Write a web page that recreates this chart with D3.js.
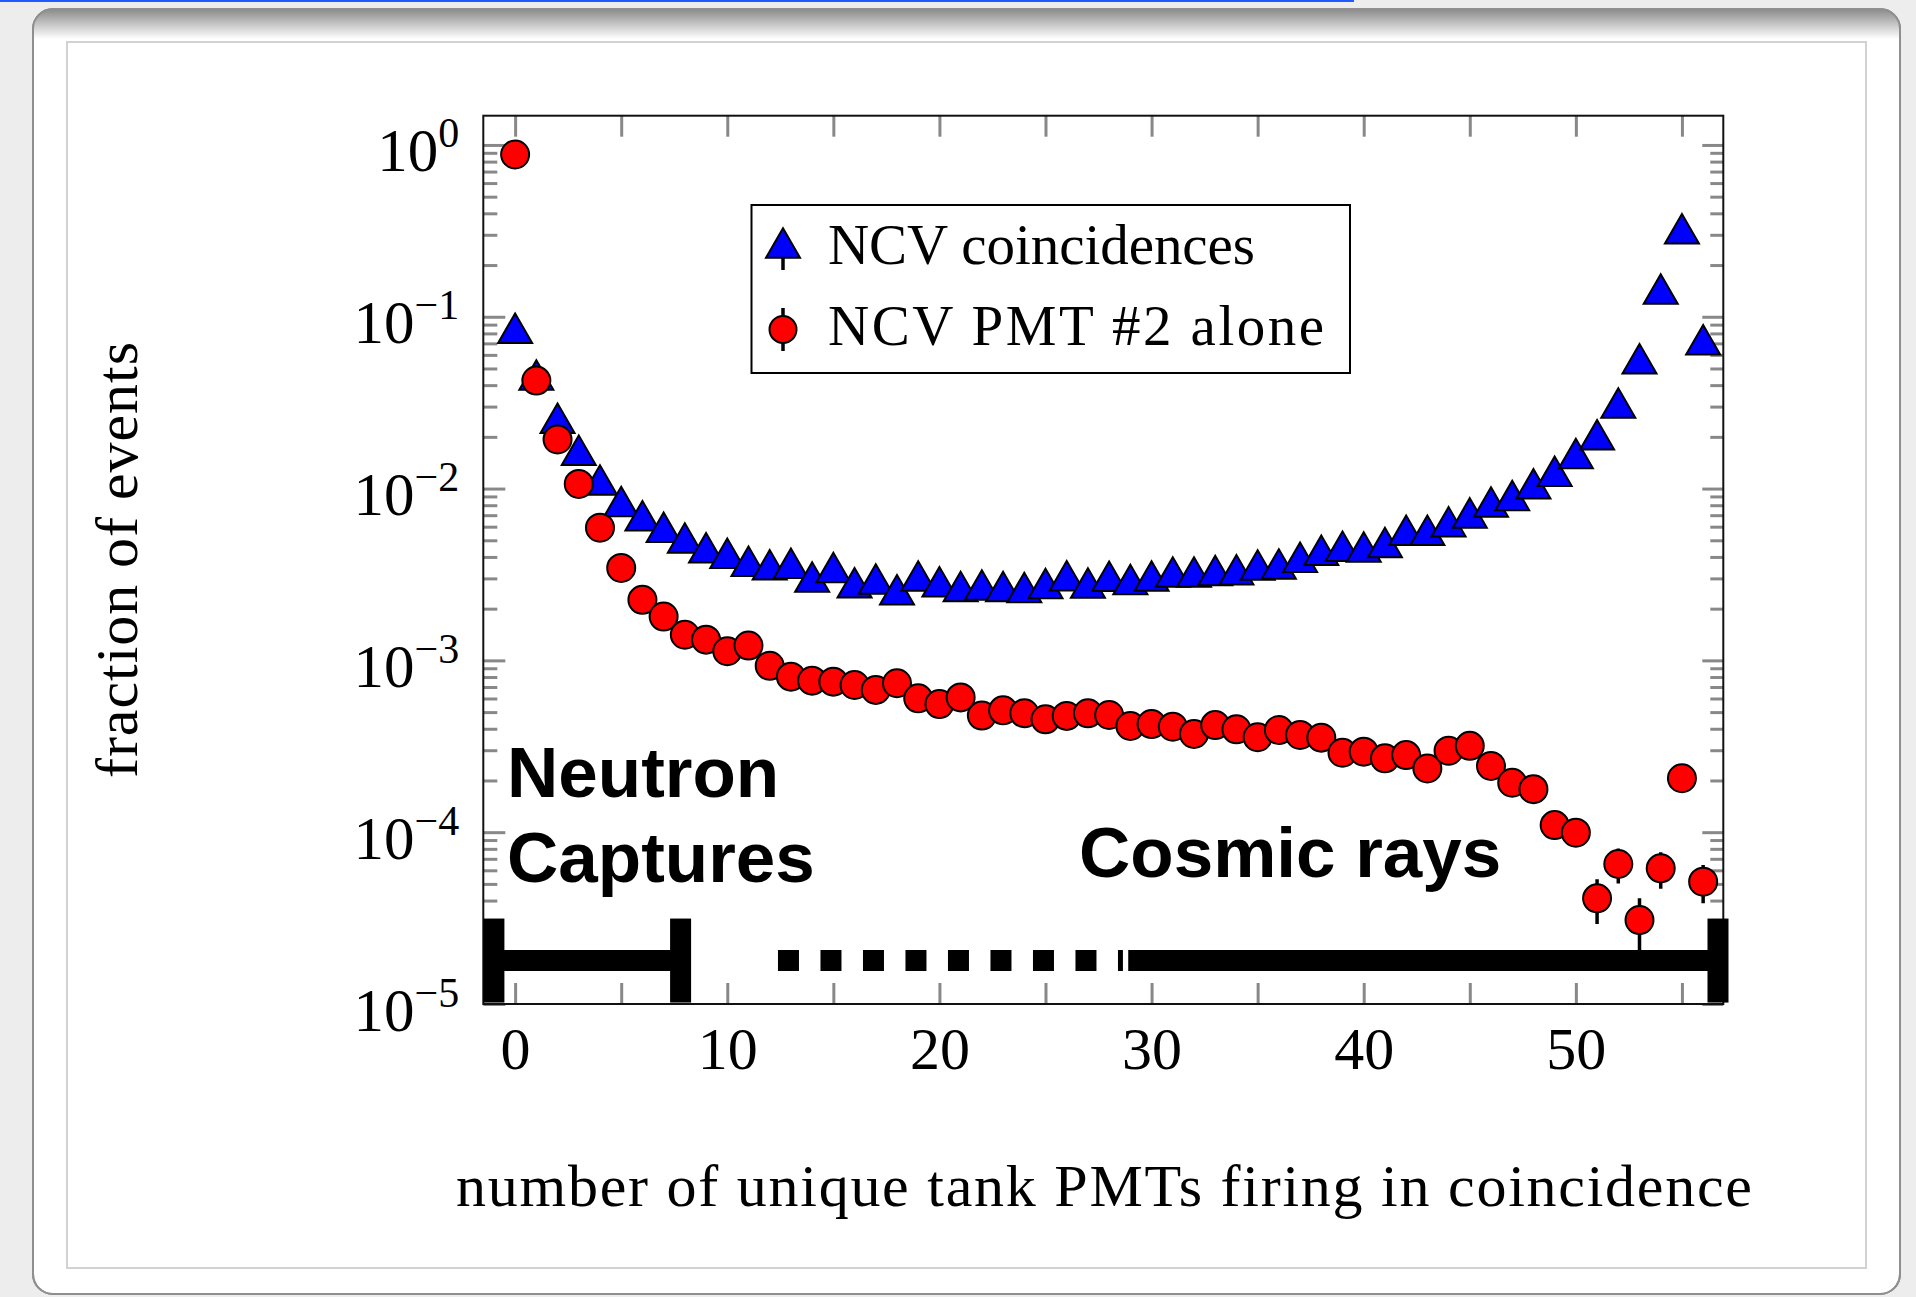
<!DOCTYPE html>
<html><head><meta charset="utf-8">
<script src="https://cdn.jsdelivr.net/npm/d3@7"></script>
<style>
html,body{margin:0;padding:0;width:1916px;height:1297px;overflow:hidden;background:#ededed;}
svg{display:block}
</style></head><body>
<svg id="c" width="1916" height="1297"></svg>
<script>
// ---------------- data ----------------
const nPMTs = [0,1,2,3,4,5,6,7,8,9,10,11,12,13,14,15,16,17,18,19,20,21,22,23,24,25,26,27,28,29,30,31,32,33,34,35,36,37,38,39,40,41,42,43,44,45,46,47,48,49,50,51,52,53,54,55,56];
const ncvCoincidences = [0.0858,0.0458,0.0257,0.0167,0.0112,0.0084,0.00695,0.00595,0.00515,0.00453,
  0.0042,0.00377,0.0036,0.00367,0.00306,0.00347,0.00283,0.00298,0.00258,0.0031,
  0.00287,0.00269,0.00275,0.00269,0.00266,0.0028,0.00311,0.00282,0.00309,0.00296,
  0.0031,0.00327,0.00327,0.00333,0.00337,0.00359,0.00364,0.00399,0.00437,0.00462,
  0.00457,0.00486,0.00572,0.00572,0.0064,0.00722,0.00834,0.0091,0.01066,0.0126,
  0.016,0.0206,0.0315,0.0569,0.145,0.325,0.0736];
const ncvPmt2Alone = [0.88,0.0425,0.0193,0.01064,0.00592,0.00345,0.00225,0.0018,0.00141,0.00132,
  0.00113,0.00122,0.00093,0.000804,0.000762,0.000752,0.000719,0.000673,0.000736,0.000601,
  0.000557,0.000609,0.000477,0.000512,0.000492,0.000454,0.000475,0.000492,0.000481,0.000415,
  0.000426,0.000411,0.000373,0.00042,0.000397,0.000357,0.000393,0.000368,0.000355,0.00029,
  0.000294,0.000269,0.000281,0.000235,0.000298,0.000318,0.000243,0.000194,0.000178,0.00011,
  0.0000993,0.0000412,0.0000653,0.0000308,0.0000616,0.000206,0.0000515];
const ncvPmt2AloneErr = [0,0,0,0,0,0,0,0,0,0, 0,0,0,0,0,0,0,0,0,0, 0,0,0,0,0,0,0,0,0,0,
  0,0,0,0,0,0,0,0,0,0, 0,0,0,0,0,0,0,0,0.000016,0.000018,
  0.000017,0.000012,0.000015,0.0000104,0.0000148,0.000025,0.0000129];
const seriesNames = ["NCV coincidences", "NCV PMT #2 alone"];
const xTickValues = [0,5,10,15,20,25,30,35,40,45,50,55];
const xTickLabels = [0,10,20,30,40,50];
const yMajorTicks = [1e-5,1e-4,1e-3,1e-2,1e-1,1];
const yTickExponents = ["\u22125","\u22124","\u22123","\u22122","\u22121","0"];
// region markers (in data units)
const regionY = 1.79e-5;
const neutronRange = [-1, 7.8];
const dashedRange = [12.39, 28.65];
const cosmicRange = [28.9, 56.7];
const xTitle = "number of unique tank PMTs firing in coincidence";
const yTitle = "fraction of events";

// ---------------- page ----------------
const svg = d3.select("#c");
const defs = svg.append("defs");
const gr = defs.append("linearGradient").attr("id","cardTop").attr("x1",0).attr("y1",0).attr("x2",0).attr("y2",1);
gr.append("stop").attr("offset","0%").attr("stop-color","#8a8a8a");
gr.append("stop").attr("offset","100%").attr("stop-color","#ffffff");
defs.append("clipPath").attr("id","cardClip").append("rect")
  .attr("x",33).attr("y",9).attr("width",1867).attr("height",1285).attr("rx",20);

svg.append("rect").attr("width",1916).attr("height",1297).attr("fill","#ededed");
svg.append("rect").attr("x",0).attr("y",0).attr("width",1354).attr("height",2).attr("fill","#1f5bff");
svg.append("rect").attr("x",33).attr("y",9).attr("width",1867).attr("height",1285).attr("rx",20)
  .attr("fill","#fff").attr("stroke","#8f8f8f").attr("stroke-width",2);
svg.append("rect").attr("x",33).attr("y",9).attr("width",1867).attr("height",30)
  .attr("fill","url(#cardTop)").attr("clip-path","url(#cardClip)");
svg.append("rect").attr("x",33).attr("y",9).attr("width",1867).attr("height",1285).attr("rx",20)
  .attr("fill","none").attr("stroke","#8f8f8f").attr("stroke-width",2);
svg.append("rect").attr("x",67).attr("y",42).attr("width",1799).attr("height",1226)
  .attr("fill","#fff").attr("stroke","#d2d2d2").attr("stroke-width",2);

// ---------------- scales ----------------
const L = 483.3, R = 1723.3, T = 115.7, B = 1004;
const x = d3.scaleLinear().domain([-1.5, 56.95]).range([L, R]);
const y = d3.scaleLog().domain([1e-5, 1.48]).range([B, T]);
const yMinor = y.ticks().filter(v => !yMajorTicks.some(m => Math.abs(m - v) / m < 1e-6));

const serif = "'Liberation Serif','DejaVu Serif',serif";
const sans = "'Liberation Sans',Arial,sans-serif";
const tickColor = "#888888";

function styleTicks(g) {
  g.select(".domain").remove();
  g.selectAll(".tick line").attr("stroke", tickColor).attr("stroke-width", 3);
  g.selectAll(".tick text").remove();
}
svg.append("g").attr("transform",`translate(0,${T})`)
  .call(d3.axisBottom(x).tickValues(xTickValues).tickSize(21).tickFormat("")).call(styleTicks);
svg.append("g").attr("transform",`translate(0,${B})`)
  .call(d3.axisTop(x).tickValues(xTickValues).tickSize(21).tickFormat("")).call(styleTicks);
svg.append("g").attr("transform",`translate(${L},0)`)
  .call(d3.axisRight(y).tickValues(yMajorTicks).tickSize(22).tickFormat("")).call(styleTicks);
svg.append("g").attr("transform",`translate(${L},0)`)
  .call(d3.axisRight(y).tickValues(yMinor).tickSize(14).tickFormat("")).call(styleTicks);
svg.append("g").attr("transform",`translate(${R},0)`)
  .call(d3.axisLeft(y).tickValues(yMajorTicks).tickSize(21).tickFormat("")).call(styleTicks);
svg.append("g").attr("transform",`translate(${R},0)`)
  .call(d3.axisLeft(y).tickValues(yMinor).tickSize(13).tickFormat("")).call(styleTicks);

// x labels
const xl = svg.append("g").attr("transform",`translate(0,${B})`)
  .call(d3.axisBottom(x).tickValues(xTickLabels).tickSize(0).tickFormat(d3.format("d")));
xl.select(".domain").remove();
xl.selectAll(".tick text").attr("y",65).attr("dy",null)
  .attr("font-family",serif).attr("font-size",60).attr("fill","#000");

// y labels
const yl = svg.append("g").attr("transform",`translate(${L},0)`)
  .call(d3.axisLeft(y).tickValues(yMajorTicks).tickSize(0).tickFormat(""));
yl.select(".domain").remove();
yl.selectAll(".tick text").remove();
yl.selectAll(".tick").append("text")
  .attr("x",-24).attr("y",26).attr("text-anchor","end")
  .attr("font-family",serif).attr("font-size",61).attr("fill","#000")
  .each(function(d){
    const i = yMajorTicks.indexOf(d);
    const t = d3.select(this);
    t.append("tspan").text("10");
    t.append("tspan").attr("dy",-24).attr("font-size",42).text(yTickExponents[i]);
  });

// frame
svg.append("rect").attr("x",L).attr("y",T).attr("width",R-L).attr("height",B-T)
  .attr("fill","none").attr("stroke","#111").attr("stroke-width",2);

// clip for data
defs.append("clipPath").attr("id","plotClip").append("rect")
  .attr("x",L).attr("y",T).attr("width",R-L).attr("height",B-T);

// ---------------- region bars ----------------
const rg = svg.append("g");
const ry = y(regionY);
function hbar(r, dashed){
  rg.append("line").attr("x1",x(r[0])).attr("x2",x(r[1])).attr("y1",ry).attr("y2",ry)
    .attr("stroke","#000").attr("stroke-width",21)
    .attr("stroke-dasharray", dashed ? "21,21.5" : null);
}
function cap(v){
  rg.append("rect").attr("x",x(v)-10.5).attr("y",ry-42).attr("width",21).attr("height",84).attr("fill","#000");
}
hbar(neutronRange,false); cap(neutronRange[0]); cap(neutronRange[1]);
hbar(dashedRange,true);
hbar(cosmicRange,false); cap(cosmicRange[1]);

// ---------------- data marks ----------------
const blueData = nPMTs.map((n,i)=>({n, v:ncvCoincidences[i]}));
const redData = nPMTs.map((n,i)=>({n, v:ncvPmt2Alone[i], e:ncvPmt2AloneErr[i]}));
const triPath = (s,h) => `M0,${-h/2}L${s/2},${h/2}L${-s/2},${h/2}Z`;
const dg = svg.append("g").attr("clip-path","url(#plotClip)");
dg.selectAll("path.tri").data(blueData).join("path").attr("class","tri")
  .attr("d", triPath(34,29.5))
  .attr("transform", d=>`translate(${x(d.n)},${y(d.v)})`)
  .attr("fill","#0000ff").attr("stroke","#000").attr("stroke-width",2).attr("stroke-linejoin","miter");
dg.selectAll("line.err").data(redData.filter(d=>d.e>0)).join("line").attr("class","err")
  .attr("x1",d=>x(d.n)).attr("x2",d=>x(d.n))
  .attr("y1",d=>y(d.v+d.e)).attr("y2",d=>y(Math.max(d.v-d.e,1e-6)))
  .attr("stroke","#000").attr("stroke-width",3.5);
dg.selectAll("circle.pt").data(redData).join("circle").attr("class","pt")
  .attr("cx",d=>x(d.n)).attr("cy",d=>y(d.v)).attr("r",14)
  .attr("fill","#ff0000").attr("stroke","#000").attr("stroke-width",2);

// ---------------- annotations ----------------
const ann = svg.append("g").attr("font-family",sans).attr("font-weight","bold").attr("font-size",71).attr("fill","#000");
ann.append("text").attr("x",507).attr("y",797).text("Neutron");
ann.append("text").attr("x",507).attr("y",882).text("Captures");
ann.append("text").attr("x",1079).attr("y",877).text("Cosmic rays");

// ---------------- legend ----------------
const lg = svg.append("g");
lg.append("rect").attr("x",751.5).attr("y",205).attr("width",598.5).attr("height",168)
  .attr("fill","#fff").attr("stroke","#000").attr("stroke-width",2);
lg.append("line").attr("x1",783).attr("x2",783).attr("y1",243).attr("y2",270).attr("stroke","#000").attr("stroke-width",3.5);
lg.append("path").attr("d",triPath(34,29.5)).attr("transform","translate(783,243)")
  .attr("fill","#0000ff").attr("stroke","#000").attr("stroke-width",2);
lg.append("line").attr("x1",783).attr("x2",783).attr("y1",308).attr("y2",351).attr("stroke","#000").attr("stroke-width",3.5);
lg.append("circle").attr("cx",783).attr("cy",329.5).attr("r",13.5)
  .attr("fill","#ff0000").attr("stroke","#000").attr("stroke-width",2);
const legTexts = [{t:seriesNames[0], y:264, w:427},{t:seriesNames[1], y:345, w:496}];
legTexts.forEach(d=>{
  lg.append("text").attr("x",828).attr("y",d.y).attr("font-family",serif).attr("font-size",57)
    .attr("fill","#000").attr("textLength",d.w).attr("lengthAdjust","spacing").text(d.t);
});

// ---------------- axis titles ----------------
svg.append("text").attr("x",456).attr("y",1206).attr("font-family",serif).attr("font-size",60)
  .attr("fill","#000").attr("textLength",1296).attr("lengthAdjust","spacing").text(xTitle);
svg.append("text").attr("transform","translate(137,560) rotate(-90)").attr("text-anchor","middle")
  .attr("font-family",serif).attr("font-size",60).attr("fill","#000")
  .attr("textLength",436).attr("lengthAdjust","spacing").text(yTitle);
</script>
</body></html>
